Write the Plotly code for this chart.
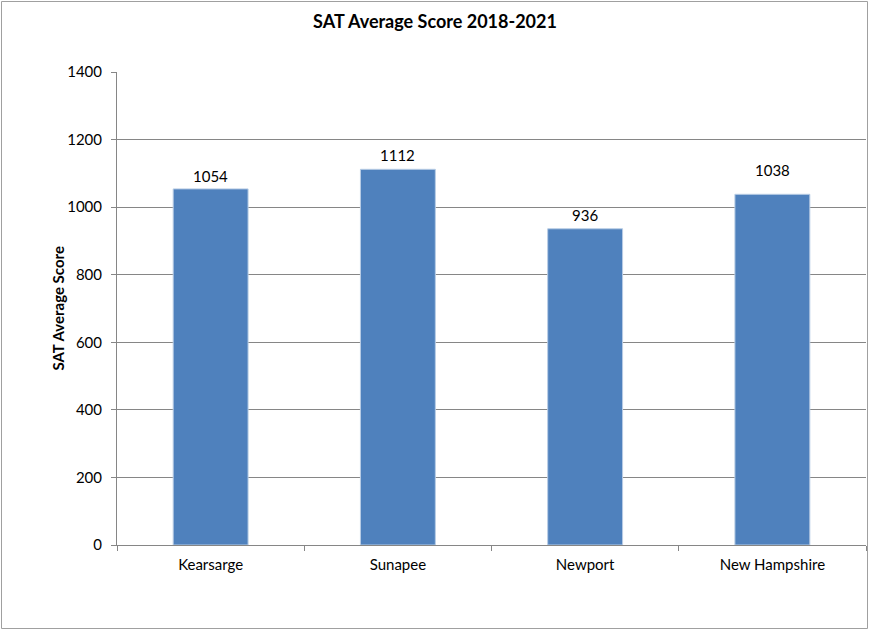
import plotly.graph_objects as go

categories = ["Kearsarge", "Sunapee", "Newport", "New Hampshire"]
scores = [1054, 1112, 936, 1038]
y_ticks = [0, 200, 400, 600, 800, 1000, 1200, 1400]

# pixel offsets of the value labels above each bar top (styling)
label_offsets = [13, 14, 14, 24]

W, H = 869, 630
L, R, T, B = 117, 3, 72, 85
pw, ph = W - L - R, H - T - B

def px_x(x):
    return (x - L) / pw

def px_y(y):
    return (H - B - y) / ph

FONT = "Lato, 'Open Sans', sans-serif"

fig = go.Figure(go.Bar(
    x=categories, y=scores,
    marker=dict(color="#4F81BD", line=dict(color="#B9CDE5", width=1)),
    width=0.4,
    cliponaxis=False,
))

annotations = [dict(text=str(v), x=c, y=v, xref="x", yref="y", yshift=off,
                    showarrow=False, xanchor="center", yanchor="middle",
                    font=dict(size=15, color="#000000", family=FONT))
               for c, v, off in zip(categories, scores, label_offsets)]
annotations.append(dict(text="<b>SAT Average Score</b>", xref="paper", yref="paper",
                        x=px_x(57), y=0.5, textangle=-90, showarrow=False,
                        font=dict(size=15, family=FONT), xanchor="center", yanchor="middle"))

fig.update_layout(
    width=W, height=H,
    margin=dict(l=L, r=R, t=T, b=B),
    paper_bgcolor="white", plot_bgcolor="white",
    showlegend=False,
    font=dict(family=FONT, size=15, color="#000000"),
    title=dict(text="<b>SAT Average Score 2018-2021</b>", x=435 / W, xref="container",
               xanchor="center", y=1 - 22 / H, yref="container", yanchor="middle",
               font=dict(size=18, family=FONT)),
    xaxis=dict(showline=True, linecolor="#868686", linewidth=1,
               ticks="outside", tickson="boundaries", ticklen=5, tickcolor="#868686",
               showgrid=False, tickfont=dict(size=15), ticklabelstandoff=6),
    yaxis=dict(range=[0, 1400], tickvals=y_ticks, showline=True, linecolor="#868686",
               linewidth=1, ticks="outside", ticklen=5, tickcolor="#868686",
               showgrid=True, gridcolor="#868686", gridwidth=1, zeroline=False,
               tickfont=dict(size=15), ticklabelstandoff=6),
    bargap=0.6,
    shapes=[dict(type="rect", xref="paper", yref="paper",
                 x0=px_x(1.5), x1=px_x(867.5), y0=px_y(628.5), y1=px_y(1.5),
                 line=dict(color="#A0A0A0", width=1), fillcolor="rgba(0,0,0,0)",
                 layer="below")],
    annotations=annotations,
)

fig.write_html("out.html", config={"displayModeBar": False},
               post_script="document.body.style.margin='0';")
